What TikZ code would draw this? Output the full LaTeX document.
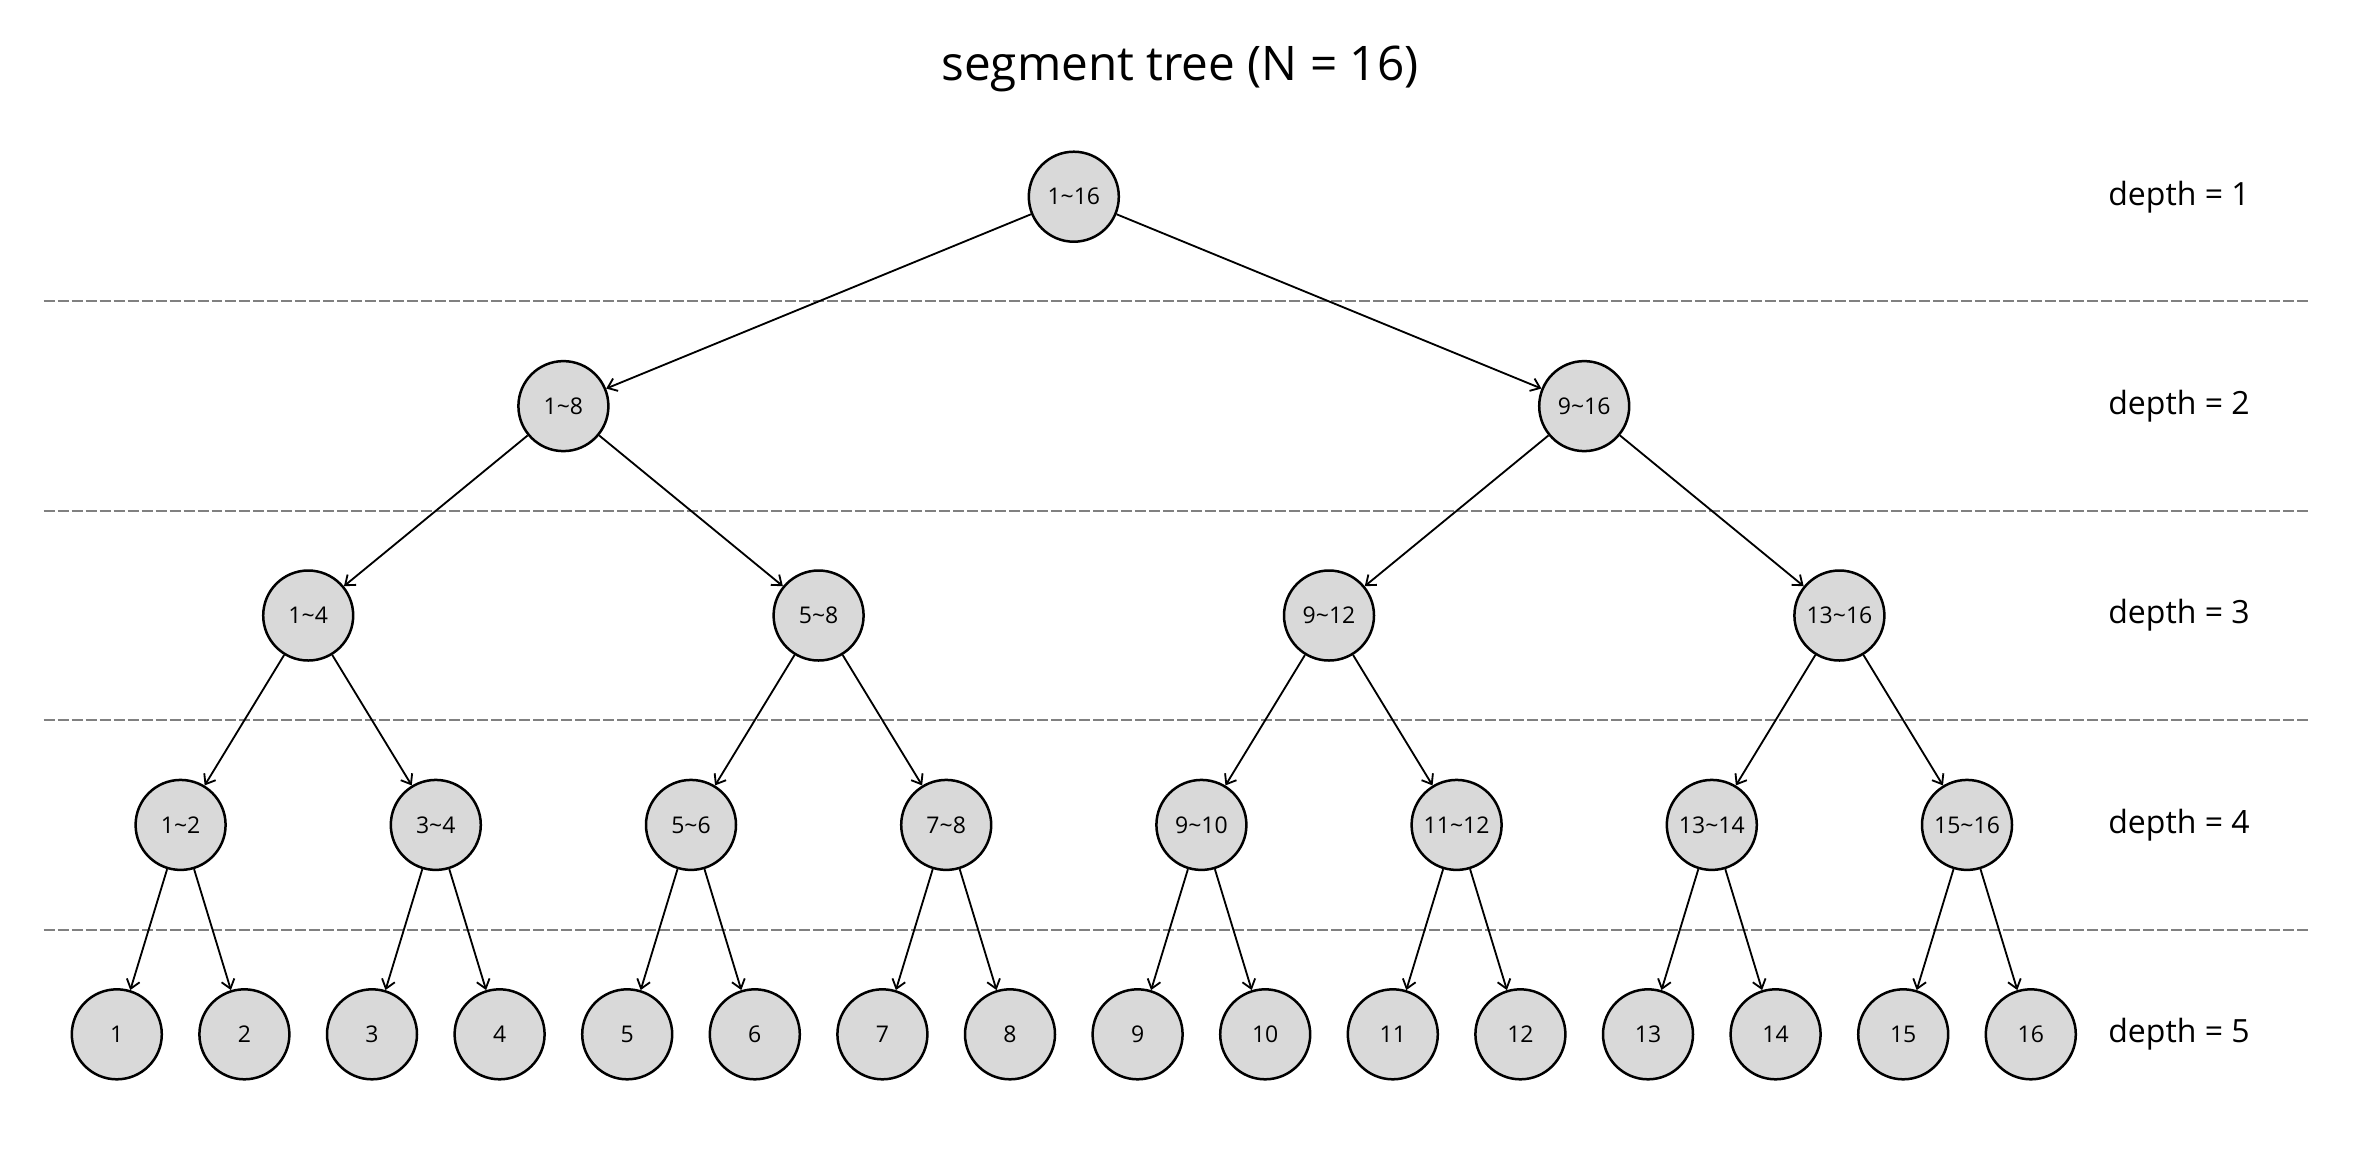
\documentclass[tikz,border=0pt]{standalone}
\usepackage{fontspec}
\setmainfont{Open Sans}
\usetikzlibrary{arrows.meta}
\definecolor{nodefill}{HTML}{D9D9D9}
\definecolor{sepgray}{HTML}{808080}
\begin{document}
\begin{tikzpicture}[x=0.3pt,y=-0.3pt,
  tn/.style={circle,draw=black,fill=nodefill,line width=0.75pt,minimum size=27pt,inner sep=0pt,font=\fontsize{6.9}{8}\selectfont},
  edge/.style={line width=0.55pt,-{Straight Barb[length=2.6pt,width=4pt,line width=0.55pt]}},
  sep/.style={draw=sepgray,line width=0.6pt,dash pattern=on 3.3pt off 0.9pt},
  dlabel/.style={font=\fontsize{9.6}{11}\selectfont},
  ttl/.style={font=\fontsize{14.3}{17}\selectfont}]
\useasboundingbox (0,0) rectangle (2362,1148);
\node[ttl] (title) at (1180,69) {segment tree (N = 16)};
\foreach \k in {1,...,4} {
  \pgfmathsetmacro\yy{196.7+(\k-0.5)*209.4}
  \draw[sep] (43.5,\yy) -- (2310,\yy);
}
\foreach \d in {1,...,5} {
  \pgfmathtruncatemacro\n{2^(\d-1)}
  \pgfmathtruncatemacro\s{16/\n}
  \pgfmathsetmacro\y{196.7+(\d-1)*209.4}
  \node[dlabel] (dl\d) at (2179,\y) {depth = \d};
  \foreach \j in {1,...,\n} {
    \pgfmathtruncatemacro\a{(\j-1)*\s+1}
    \pgfmathtruncatemacro\b{\j*\s}
    \pgfmathsetmacro\x{116.8+((\j-1)*\s+(\s-1)/2)*127.6}
    \node[tn] (n\d-\j) at (\x,\y) {\ifnum\s=1 \a\else\a\textasciitilde\b\fi};
  }
}
\foreach \d in {1,...,4} {
  \pgfmathtruncatemacro\n{2^(\d-1)}
  \pgfmathtruncatemacro\dd{\d+1}
  \foreach \j in {1,...,\n} {
    \pgfmathtruncatemacro\c{2*\j-1}
    \pgfmathtruncatemacro\cc{2*\j}
    \draw[edge] (n\d-\j) -- (n\dd-\c);
    \draw[edge] (n\d-\j) -- (n\dd-\cc);
  }
}
\end{tikzpicture}
\end{document}
